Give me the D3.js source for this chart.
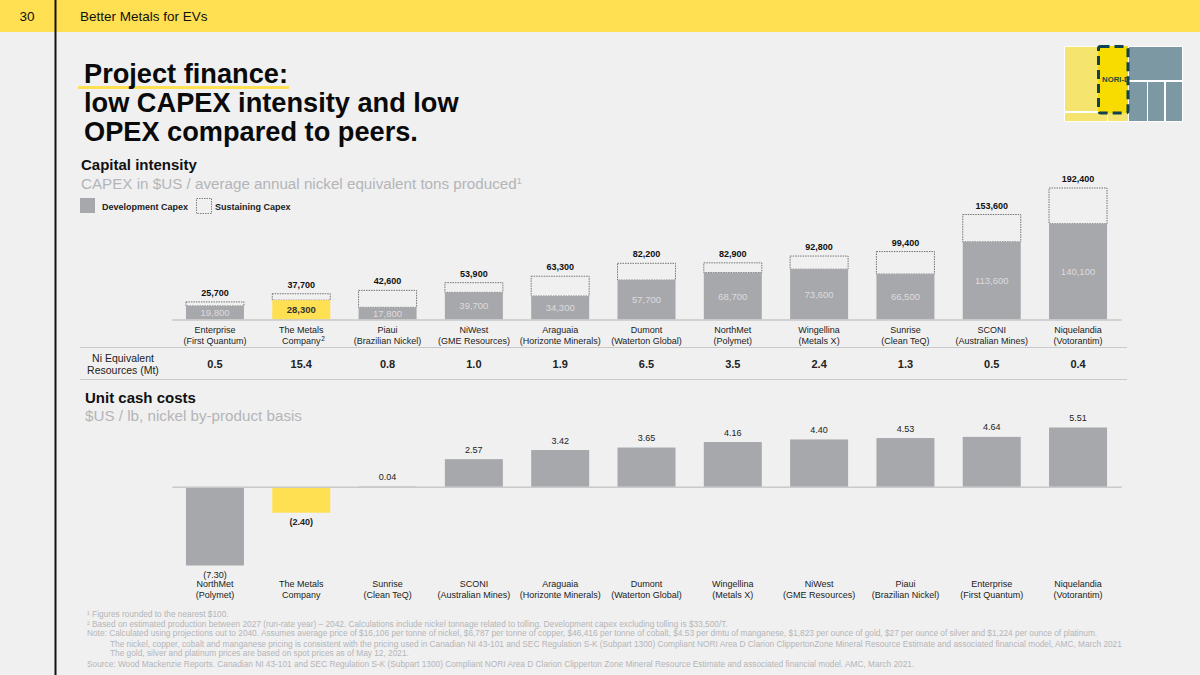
<!DOCTYPE html>
<html>
<head>
  <meta charset="utf-8">
  <title>Project finance</title>
  <script src="https://d3js.org/d3.v7.min.js"></script>
  <style>
    html, body { margin: 0; padding: 0; background: #f0f0f0; }
    svg { display: block; font-family: "Liberation Sans", Arial, sans-serif; }
    .domain { stroke: #c9c9c9; stroke-width: 1.5; }
  </style>
</head>
<body>
<div id="chart"></div>
<script>
// capital intensity
var capexNames = ["Enterprise", "The Metals", "Piaui", "NiWest", "Araguaia", "Dumont", "NorthMet", "Wingellina", "Sunrise", "SCONI", "Niquelandia"];
var capexOwners = ["(First Quantum)", "Company", "(Brazilian Nickel)", "(GME Resources)", "(Horizonte Minerals)", "(Waterton Global)", "(Polymet)", "(Metals X)", "(Clean TeQ)", "(Australian Mines)", "(Votorantim)"];
var devCapex = [19800, 28300, 17800, 39700, 34300, 57700, 68700, 73600, 66500, 113600, 140100];
var totalCapex = [25700, 37700, 42600, 53900, 63300, 82200, 82900, 92800, 99400, 153600, 192400];
var niResources = ["0.5", "15.4", "0.8", "1.0", "1.9", "6.5", "3.5", "2.4", "1.3", "0.5", "0.4"];

// unit cash costs
var costNames = ["NorthMet", "The Metals", "Sunrise", "SCONI", "Araguaia", "Dumont", "Wingellina", "NiWest", "Piaui", "Enterprise", "Niquelandia"];
var costOwners = ["(Polymet)", "Company", "(Clean TeQ)", "(Australian Mines)", "(Horizonte Minerals)", "(Waterton Global)", "(Metals X)", "(GME Resources)", "(Brazilian Nickel)", "(First Quantum)", "(Votorantim)"];
var unitCosts = [-7.30, -2.40, 0.04, 2.57, 3.42, 3.65, 4.16, 4.40, 4.53, 4.64, 5.51];

var footnotes = [
  ["¹ Figures rounded to the nearest $100.", 87, 616.8],
  ["² Based on estimated production between 2027 (run-rate year) – 2042. Calculations include nickel tonnage related to tolling. Development capex excluding tolling is $33,500/T.", 87, 626.5],
  ["Note: Calculated using projections out to 2040. Assumes average price of $16,106 per tonne of nickel, $6,787 per tonne of copper, $46,416 per tonne of cobalt, $4.53 per dmtu of manganese, $1,823 per ounce of gold, $27 per ounce of silver and $1,224 per ounce of platinum.", 87, 636],
  ["The nickel, copper, cobalt and manganese pricing is consistent with the pricing used in Canadian NI 43-101 and SEC Regulation S-K (Subpart 1300) Compliant NORI Area D Clarion ClippertonZone Mineral Resource Estimate and associated financial model, AMC, March 2021", 110, 646.5],
  ["The gold, silver and platinum prices are based on spot prices as of May 12, 2021.", 110, 656],
  ["Source: Wood Mackenzie Reports. Canadian NI 43-101 and SEC Regulation S-K (Subpart 1300) Compliant NORI Area D Clarion Clipperton Zone Mineral Resource Estimate and associated financial model. AMC, March 2021.", 87, 666.5]
];

var yellow = "#ffe052";
var grey = "#a7a8ac";
var lightText = "#b4b5b8";
var w = 1200;
var h = 675;

var svg = d3.select("#chart").append("svg").attr("width", w).attr("height", h);
svg.append("rect").attr("width", w).attr("height", h).attr("fill", "#f0f0f0");

// header
svg.append("rect").attr("width", w).attr("height", 32).attr("fill", yellow);
svg.append("line").attr("x1", 55.5).attr("x2", 55.5).attr("y1", 0).attr("y2", h).attr("stroke", "#111").attr("stroke-width", 2);
addText("30", 27, 21, 13.5, "#111").attr("text-anchor", "middle");
addText("Better Metals for EVs", 80, 21, 13.5, "#111");

// title
svg.append("rect").attr("x", 78).attr("y", 86).attr("width", 211).attr("height", 3).attr("fill", yellow);
addText("Project finance:", 84, 82.5, 27.2, "#0a0a0a", "bold");
addText("low CAPEX intensity and low", 84, 112, 27.2, "#0a0a0a", "bold");
addText("OPEX compared to peers.", 84, 141, 27.2, "#0a0a0a", "bold");

// section headings
addText("Capital intensity", 81, 170, 15, "#111", "bold");
var sub = addText("CAPEX in $US / average annual nickel equivalent tons produced", 81, 189, 15.2, lightText);
sub.append("tspan").attr("font-size", 9).attr("dy", -5).text("1");
addText("Unit cash costs", 85, 403, 15, "#111", "bold");
addText("$US / lb, nickel by-product basis", 85, 421, 15.2, lightText);

// legend
svg.append("rect").attr("x", 80).attr("y", 198).attr("width", 15).attr("height", 15).attr("fill", grey);
addText("Development Capex", 102, 210, 9, "#222", "bold");
svg.append("rect").attr("x", 196.5).attr("y", 198.5).attr("width", 15).attr("height", 15)
  .attr("fill", "none").attr("stroke", "#666").attr("stroke-width", 0.8).attr("stroke-dasharray", "1.5,1");
addText("Sustaining Capex", 215, 210, 9, "#222", "bold");

// inset map
var inset = svg.append("g");
inset.append("rect").attr("x", 1064).attr("y", 46).attr("width", 119).attr("height", 76).attr("fill", "#fff");
insetCell(1065, 47, 34, 64, "#f5e56e");
insetCell(1065, 113, 42, 8, "#f5e56e");
insetCell(1108, 113, 20, 8, "#f5e56e");
insetCell(1129, 47, 53, 33, "#7b98a3");
insetCell(1129, 82, 18, 39, "#7b98a3");
insetCell(1148, 82, 16, 39, "#7b98a3");
insetCell(1166, 82, 16, 39, "#7b98a3");
insetCell(1098, 46, 30, 67, "#f8dc00");
inset.append("rect").attr("x", 1098.5).attr("y", 46.5).attr("width", 29.5).attr("height", 66.5)
  .attr("rx", 2).attr("fill", "none").attr("stroke", "#0f4150").attr("stroke-width", 3).attr("stroke-dasharray", "9,5");
svg.append("clipPath").attr("id", "nori").append("rect").attr("x", 1098).attr("y", 46).attr("width", 30).attr("height", 67);
addText("NORI-D", 1102, 81.5, 7.8, "#1c4d3c", "bold").attr("clip-path", "url(#nori)");

// shared band layout for both charts
var bandRange = [171.8, 1121.2];

// capex chart
var xCapex = d3.scaleBand().domain(capexNames).range(bandRange).paddingInner(0.328).paddingOuter(0.164);
var yCapex = d3.scaleLinear().domain([0, 192400]).range([319.5, 188]);

var capexBars = svg.append("g").selectAll("g").data(capexNames).enter().append("g");
capexBars.append("rect")
  .attr("x", function(d) { return xCapex(d); })
  .attr("width", xCapex.bandwidth())
  .attr("y", function(d, i) { return yCapex(totalCapex[i]); })
  .attr("height", function(d, i) { return yCapex(devCapex[i]) - yCapex(totalCapex[i]); })
  .attr("fill", "none")
  .attr("stroke", "#555")
  .attr("stroke-width", 0.8)
  .attr("stroke-dasharray", "1.5,1");
capexBars.append("rect")
  .attr("x", function(d) { return xCapex(d); })
  .attr("width", xCapex.bandwidth())
  .attr("y", function(d, i) { return yCapex(devCapex[i]); })
  .attr("height", function(d, i) { return yCapex(0) - yCapex(devCapex[i]); })
  .attr("fill", function(d) { return d == "The Metals" ? yellow : grey; });
capexBars.append("text")
  .attr("x", function(d) { return xCapex(d) + xCapex.bandwidth() / 2; })
  .attr("y", function(d, i) { return (yCapex(devCapex[i]) + yCapex(0)) / 2 + 3.5; })
  .attr("text-anchor", "middle")
  .attr("font-size", 9.5)
  .attr("font-weight", function(d) { return d == "The Metals" ? "bold" : "normal"; })
  .attr("fill", function(d) { return d == "The Metals" ? "#333" : "#dcdcde"; })
  .text(function(d, i) { return d3.format(",")(devCapex[i]); });
capexBars.append("text")
  .attr("x", function(d) { return xCapex(d) + xCapex.bandwidth() / 2; })
  .attr("y", function(d, i) { return yCapex(totalCapex[i]) - 6; })
  .attr("text-anchor", "middle")
  .attr("font-size", 9)
  .attr("font-weight", "bold")
  .attr("fill", "#111")
  .text(function(d, i) { return d3.format(",")(totalCapex[i]); });

drawAxis(xCapex, 319.5, capexOwners, 333);

// resources row
svg.append("line").attr("x1", 80).attr("x2", 1127).attr("y1", 347.5).attr("y2", 347.5).attr("stroke", "#c9c9c9").attr("stroke-width", 1);
svg.append("line").attr("x1", 80).attr("x2", 1127).attr("y1", 379.5).attr("y2", 379.5).attr("stroke", "#c9c9c9").attr("stroke-width", 1);
addText("Ni Equivalent", 123, 361.5, 10.5, "#222").attr("text-anchor", "middle");
addText("Resources (Mt)", 123, 373.5, 10.5, "#222").attr("text-anchor", "middle");
svg.append("g").selectAll("text").data(niResources).enter().append("text")
  .attr("x", function(d, i) { return xCapex(capexNames[i]) + xCapex.bandwidth() / 2; })
  .attr("y", 368)
  .attr("text-anchor", "middle")
  .attr("font-size", 11)
  .attr("font-weight", "bold")
  .attr("fill", "#222")
  .text(function(d) { return d; });

// unit cost chart
var xCost = d3.scaleBand().domain(costNames).range(bandRange).paddingInner(0.328).paddingOuter(0.164);
var yCost = d3.scaleLinear().domain([-7.3, 5.51]).range([565.5, 427.5]);

var costBars = svg.append("g").selectAll("g").data(costNames).enter().append("g");
costBars.append("rect")
  .attr("x", function(d) { return xCost(d); })
  .attr("width", xCost.bandwidth())
  .attr("y", function(d, i) { return yCost(Math.max(unitCosts[i], 0)); })
  .attr("height", function(d, i) { return Math.abs(yCost(unitCosts[i]) - yCost(0)); })
  .attr("fill", function(d) { return d == "The Metals" ? yellow : grey; });
costBars.append("text")
  .attr("x", function(d) { return xCost(d) + xCost.bandwidth() / 2; })
  .attr("y", function(d, i) { return unitCosts[i] < 0 ? yCost(unitCosts[i]) + 12 : yCost(unitCosts[i]) - 6.5; })
  .attr("text-anchor", "middle")
  .attr("font-size", 9)
  .attr("font-weight", function(d) { return d == "The Metals" ? "bold" : "normal"; })
  .attr("fill", "#222")
  .text(function(d, i) {
    var v = d3.format(".2f")(Math.abs(unitCosts[i]));
    return unitCosts[i] < 0 ? "(" + v + ")" : v;
  });

drawAxis(xCost, yCost(0), costOwners, 587.5);

// footnotes
footnotes.forEach(function(f) {
  addText(f[0], f[1], f[2], 8.3, lightText);
});

function addText(str, x, y, size, fill, weight) {
  return svg.append("text").attr("x", x).attr("y", y)
    .attr("font-size", size).attr("fill", fill)
    .attr("font-weight", weight || "normal").text(str);
}

function insetCell(x, y, cw, ch, fill) {
  inset.append("rect").attr("x", x).attr("y", y).attr("width", cw).attr("height", ch).attr("fill", fill);
}

// baseline and two line category labels from d3.axisBottom
function drawAxis(scale, y, owners, labelY) {
  var g = svg.append("g")
    .attr("transform", "translate(0," + y + ")")
    .call(d3.axisBottom(scale).tickSize(0).tickSizeOuter(0));
  g.selectAll(".tick text").remove();
  g.selectAll(".tick").append("text")
    .attr("text-anchor", "middle")
    .attr("y", labelY - y)
    .attr("font-family", "Liberation Sans")
    .attr("font-size", 9)
    .attr("fill", "#222")
    .text(function(d) { return d; });
  g.selectAll(".tick").append("text")
    .attr("text-anchor", "middle")
    .attr("y", labelY - y + 11)
    .attr("font-family", "Liberation Sans")
    .attr("font-size", 9)
    .attr("fill", "#222")
    .text(function(d, i) { return owners[i]; });
}

// superscript on the first company label
svg.append("text").attr("x", xCapex("The Metals") + xCapex.bandwidth() / 2 + 20).attr("y", 341).attr("font-size", 6.5).attr("fill", "#222").text("2");
</script>
</body>
</html>
